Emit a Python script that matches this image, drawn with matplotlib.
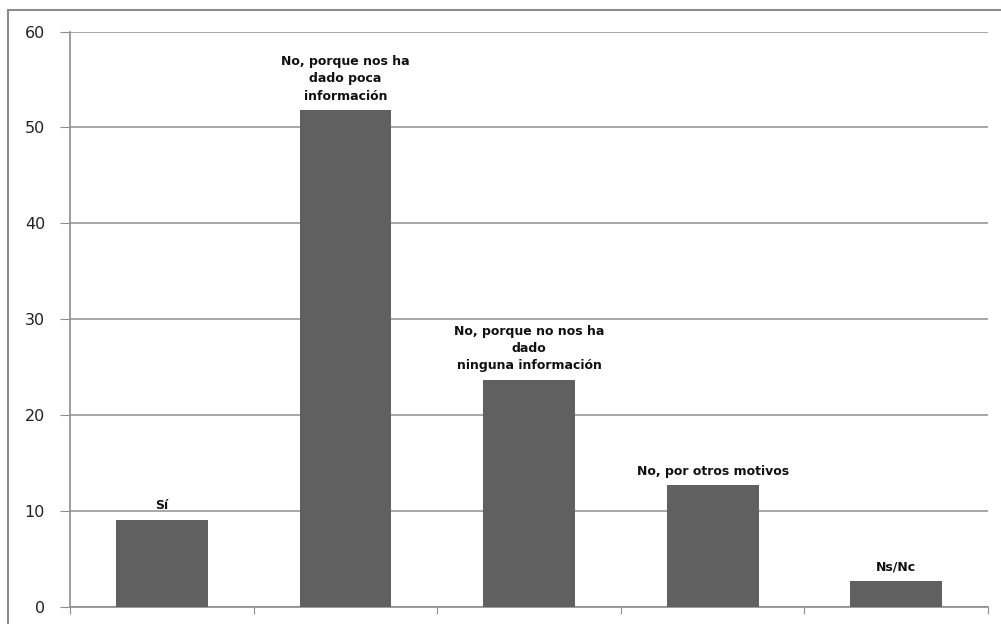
import matplotlib.pyplot as plt
from matplotlib.patches import Rectangle

categorias = ["Sí",
              "No, porque nos ha\ndado poca\ninformación",
              "No, porque no nos ha\ndado\nninguna información",
              "No, por otros motivos",
              "Ns/Nc"]
valores = [9.1, 51.8, 23.7, 12.7, 2.7]
yticks = [0, 10, 20, 30, 40, 50, 60]

fig = plt.figure(figsize=(10.01, 6.24), dpi=100)
ax = fig.add_axes([70 / 1001, 17 / 624, 918 / 1001, 575.5 / 624])

# marco del area del grafico (cortado a la derecha y abajo)
fig.patches.append(Rectangle((8 / 1001, -0.1), 1.2, 1.1 - 10 / 624,
                             transform=fig.transFigure, fill=False,
                             edgecolor="#8c8c8c", lw=1.5))

x = list(range(len(valores)))
ax.bar(x, valores, width=0.5, color="#606060", zorder=3)

for i, v in enumerate(valores):
    ax.annotate(categorias[i], (i, v), xytext=(0, 5.5), textcoords="offset points",
                ha="center", va="bottom", fontsize=9, fontweight="bold",
                family="DejaVu Sans", linespacing=1.42, color="#111111")

ax.set_xlim(-0.5, 4.5)
ax.set_ylim(0, 60)
ax.set_yticks(yticks)
ax.set_xticks([-0.5, 0.5, 1.5, 2.5, 3.5, 4.5])
ax.set_xticklabels([])
ax.yaxis.grid(True, color="#a0a0a0", lw=1.3, zorder=0)
ax.tick_params(axis="y", length=7, color="#8c8c8c", labelsize=11.5, pad=11,
               labelcolor="#222222")
ax.tick_params(axis="x", length=5, color="#8c8c8c")

for s in ["top", "right"]:
    ax.spines[s].set_visible(False)
ax.spines["left"].set_color("#8c8c8c")
ax.spines["bottom"].set_color("#8c8c8c")
ax.spines["left"].set_linewidth(1.2)
ax.spines["bottom"].set_linewidth(1.2)

fig.savefig("out.png", dpi=100)
